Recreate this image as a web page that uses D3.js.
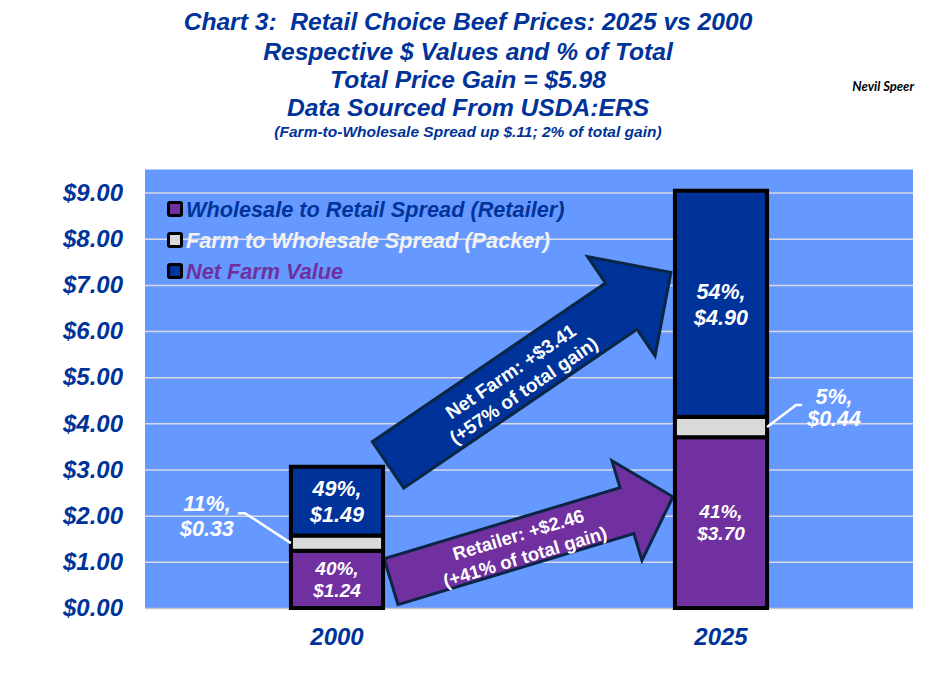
<!DOCTYPE html>
<html>
<head>
<meta charset="utf-8">
<script src="https://cdn.jsdelivr.net/npm/d3@7/dist/d3.min.js"></script>
<style>
  html, body { margin: 0; padding: 0; background: #ffffff; }
  svg { display: block; }
  text { font-family: "Liberation Sans", Arial, sans-serif; }
</style>
</head>
<body>
<svg id="chart" width="936" height="678"></svg>
<script>
// ---------------- DATA ----------------
const categories = ["2000", "2025"];
const seriesNames = [
  "Wholesale to Retail Spread (Retailer)",
  "Farm to Wholesale Spread (Packer)",
  "Net Farm Value"
];
const retailerValues = [1.24, 3.70];
const packerValues = [0.33, 0.44];
const netFarmValues = [1.49, 4.90];
const retailerPct = ["40%", "41%"];
const packerPct = ["11%", "5%"];
const netFarmPct = ["49%", "54%"];
const yTickValues = [0, 1, 2, 3, 4, 5, 6, 7, 8, 9];
const titleLines = [
  "Chart 3:  Retail Choice Beef Prices: 2025 vs 2000",
  "Respective $ Values and % of Total",
  "Total Price Gain = $5.98",
  "Data Sourced From USDA:ERS"
];
const subtitle = "(Farm-to-Wholesale Spread up $.11; 2% of total gain)";
const author = "Nevil Speer";
const netFarmArrowText = ["Net Farm: +$3.41", "(+57% of total gain)"];
const retailerArrowText = ["Retailer: +$2.46", "(+41% of total gain)"];
// arrow start / end values (dollar levels on the y scale)
const netFarmArrowFromTo = [3.10, 7.27];
const retailerArrowFromTo = [0.57, 2.41];

// ---------------- STYLE ----------------
const C = {
  plotBg: "#6699FF",
  grid: "#d9d9e6",
  navy: "#003399",
  purple: "#7030A0",
  gray: "#D9D9D9",
  white: "#ffffff",
  arrowStroke: "#0b2545"
};
const seriesColors = [C.purple, C.gray, C.navy];
const legendTextColors = [C.navy, "#f2f2f2", C.purple];

const svg = d3.select("#chart");
const plot = { left: 145, right: 913, top: 169.5, bottom: 608 };

const x = d3.scaleBand().domain(categories)
  .range([plot.left, plot.right]).paddingInner(0.76).paddingOuter(0.38);
const y = d3.scaleLinear().domain([0, 9.5]).range([plot.bottom, plot.top]);

// ---------------- TITLE ----------------
const titleY = [30, 60, 88, 116];
svg.selectAll("text.title").data(titleLines).join("text")
  .attr("class", "title")
  .attr("x", 468).attr("y", (d, i) => titleY[i])
  .attr("text-anchor", "middle")
  .style("white-space", "pre")
  .attr("font-size", 24.6).attr("font-weight", "bold").attr("font-style", "italic")
  .attr("fill", C.navy).text(d => d);
svg.append("text").attr("x", 468).attr("y", 137).attr("text-anchor", "middle")
  .attr("font-size", 15.5).attr("font-weight", "bold").attr("font-style", "italic")
  .attr("fill", C.navy).text(subtitle);
svg.append("text").attr("x", 914).attr("y", 91).attr("text-anchor", "end")
  .style("font-family", "Lato, 'Open Sans', sans-serif")
  .attr("font-size", 13).attr("font-weight", "bold").attr("font-style", "italic")
  .attr("fill", "#000").text(author);

// ---------------- PLOT AREA ----------------
svg.append("rect").attr("x", plot.left).attr("y", plot.top)
  .attr("width", plot.right - plot.left).attr("height", plot.bottom - plot.top)
  .attr("fill", C.plotBg);

// gridlines via axis
const grid = svg.append("g").attr("transform", `translate(${plot.left},0)`)
  .call(d3.axisLeft(y).tickValues(yTickValues.slice(1)).tickSize(-(plot.right - plot.left)).tickFormat(""));
grid.select(".domain").remove();
grid.selectAll("line").attr("stroke", C.grid).attr("stroke-width", 1.5);

// bottom line
svg.append("line").attr("x1", plot.left).attr("x2", plot.right)
  .attr("y1", plot.bottom + 0.5).attr("y2", plot.bottom + 0.5)
  .attr("stroke", "#c8c8d0").attr("stroke-width", 1.5);

// y axis labels
const yAxis = svg.append("g").attr("transform", `translate(${plot.left},0)`)
  .call(d3.axisLeft(y).tickValues(yTickValues).tickSize(0).tickPadding(22)
    .tickFormat(d => "$" + d3.format(".2f")(d)));
yAxis.select(".domain").remove();
yAxis.selectAll("text").attr("font-size", 24).attr("font-weight", "bold")
  .attr("font-style", "italic").attr("fill", C.navy)
  .style("font-family", "'Liberation Sans', Arial, sans-serif");

// x axis labels
const xAxis = svg.append("g").attr("transform", `translate(0,${plot.bottom})`)
  .call(d3.axisBottom(x).tickSize(0).tickPadding(20));
xAxis.select(".domain").remove();
xAxis.selectAll("text").attr("font-size", 24).attr("font-weight", "bold")
  .attr("font-style", "italic").attr("fill", C.navy)
  .style("font-family", "'Liberation Sans', Arial, sans-serif");

// ---------------- LEGEND ----------------
const legendY = [209, 240, 271];
const legend = svg.append("g");
seriesNames.forEach((name, i) => {
  legend.append("rect").attr("x", 168.5).attr("y", legendY[i] - 6.5)
    .attr("width", 13).attr("height", 13).attr("rx", 1.5)
    .attr("fill", seriesColors[i]).attr("stroke", "#000").attr("stroke-width", 3);
  legend.append("text").attr("x", 186).attr("y", legendY[i] + 7.5)
    .attr("font-size", 21.7).attr("font-weight", "bold").attr("font-style", "italic")
    .attr("fill", legendTextColors[i]).text(name);
});

// ---------------- ARROWS ----------------
function arrowPath(p0, p1, shaftW, headW, headL) {
  const dx = p1[0] - p0[0], dy = p1[1] - p0[1];
  const L = Math.hypot(dx, dy);
  const ux = dx / L, uy = dy / L, nx = -uy, ny = ux;
  const bx = p1[0] - ux * headL, by = p1[1] - uy * headL;
  const pts = [
    [p0[0] + nx * shaftW / 2, p0[1] + ny * shaftW / 2],
    [bx + nx * shaftW / 2, by + ny * shaftW / 2],
    [bx + nx * headW / 2, by + ny * headW / 2],
    p1,
    [bx - nx * headW / 2, by - ny * headW / 2],
    [bx - nx * shaftW / 2, by - ny * shaftW / 2],
    [p0[0] - nx * shaftW / 2, p0[1] - ny * shaftW / 2]
  ];
  return "M" + pts.map(p => p.join(",")).join("L") + "Z";
}
function drawArrow(p0, p1, shaftW, headW, headL, fill, lines, t, off, fs, lh) {
  svg.append("path").attr("d", arrowPath(p0, p1, shaftW, headW, headL))
    .attr("fill", fill).attr("stroke", C.arrowStroke).attr("stroke-width", 3)
    .attr("stroke-linejoin", "miter");
  const ang = Math.atan2(p1[1] - p0[1], p1[0] - p0[0]) * 180 / Math.PI;
  const cx = p0[0] + (p1[0] - p0[0]) * t, cy = p0[1] + (p1[1] - p0[1]) * t;
  const g = svg.append("g").attr("transform", `translate(${cx},${cy}) rotate(${ang})`);
  lines.forEach((s, i) => {
    g.append("text").attr("x", 0).attr("y", off + (i - 0.5) * lh + fs * 0.36)
      .attr("text-anchor", "middle").attr("font-size", fs).attr("font-weight", "bold")
      .attr("fill", C.white).text(s);
  });
}
const bar2000Right = x(categories[0]) + x.bandwidth();
const bar2025Left = x(categories[1]);
drawArrow([bar2000Right + 5, y(netFarmArrowFromTo[0])], [bar2025Left - 4, y(netFarmArrowFromTo[1])],
  56, 120, 60, C.navy, netFarmArrowText, 0.45, 3, 19, 23);
drawArrow([bar2000Right + 8, y(retailerArrowFromTo[0])], [bar2025Left - 2, y(retailerArrowFromTo[1])],
  48, 104, 48, C.purple, retailerArrowText, 0.46, 3, 18.5, 23);

// ---------------- BARS ----------------
const stackData = categories.map((c, i) => ({
  cat: c,
  segs: [
    { v: retailerValues[i], pct: retailerPct[i], color: seriesColors[0] },
    { v: packerValues[i], pct: packerPct[i], color: seriesColors[1] },
    { v: netFarmValues[i], pct: netFarmPct[i], color: seriesColors[2] }
  ]
}));
stackData.forEach(d => {
  let base = 0;
  d.segs.forEach(s => { s.y0 = base; s.y1 = base + s.v; base = s.y1; });
});
const bars = svg.append("g");
stackData.forEach(d => {
  bars.selectAll(null).data(d.segs).join("rect")
    .attr("x", x(d.cat)).attr("width", x.bandwidth())
    .attr("y", s => y(s.y1)).attr("height", s => y(s.y0) - y(s.y1))
    .attr("fill", s => s.color).attr("stroke", "#000").attr("stroke-width", 4);
});

// labels inside bars
function twoLine(g, cx, cy, l1, l2, fs, lh, color) {
  const cap = fs * 0.716;
  [l1, l2].forEach((s, i) => {
    g.append("text").attr("x", cx).attr("y", cy + (i === 0 ? -lh / 2 : lh / 2) + cap / 2)
      .attr("text-anchor", "middle").attr("font-size", fs).attr("font-weight", "bold")
      .attr("font-style", "italic").attr("fill", color).text(s);
  });
}
const labels = svg.append("g");
const money = v => "$" + d3.format(".2f")(v);
stackData.forEach(d => {
  const cx = x(d.cat) + x.bandwidth() / 2;
  const r = d.segs[0], f = d.segs[2];
  twoLine(labels, cx, y((r.y0 + r.y1) / 2), r.pct + ",", money(r.v), 19, 22, C.white);
  twoLine(labels, cx, y((f.y0 + f.y1) / 2), f.pct + ",", money(f.v), 21.5, 26, C.white);
});

// packer callouts with leader lines
const p0 = stackData[0].segs[1];
const p0End = [x(categories[0]), y((p0.y0 + p0.y1) / 2)];
const p0Start = [p0End[0] - 53, p0End[1] - 30];
svg.append("path")
  .attr("d", `M${p0Start[0]},${p0Start[1]}L${p0Start[0] + 7},${p0Start[1]}L${p0End[0]},${p0End[1]}`)
  .attr("fill", "none").attr("stroke", C.white).attr("stroke-width", 2.5);
twoLine(labels, p0Start[0] - 31, p0Start[1] + 3, p0.pct + ",", money(p0.v), 21.5, 25, C.white);

const p1 = stackData[1].segs[1];
const p1End = [x(categories[1]) + x.bandwidth(), y((p1.y0 + p1.y1) / 2)];
const p1Elbow = [p1End[0] + 29, p1End[1] - 22];
svg.append("path")
  .attr("d", `M${p1End[0]},${p1End[1]}L${p1Elbow[0]},${p1Elbow[1]}L${p1Elbow[0] + 6},${p1Elbow[1]}`)
  .attr("fill", "none").attr("stroke", C.white).attr("stroke-width", 2.5);
twoLine(labels, p1Elbow[0] + 38, p1Elbow[1] + 2, p1.pct + ",", money(p1.v), 21.5, 22, C.white);
</script>
</body>
</html>
